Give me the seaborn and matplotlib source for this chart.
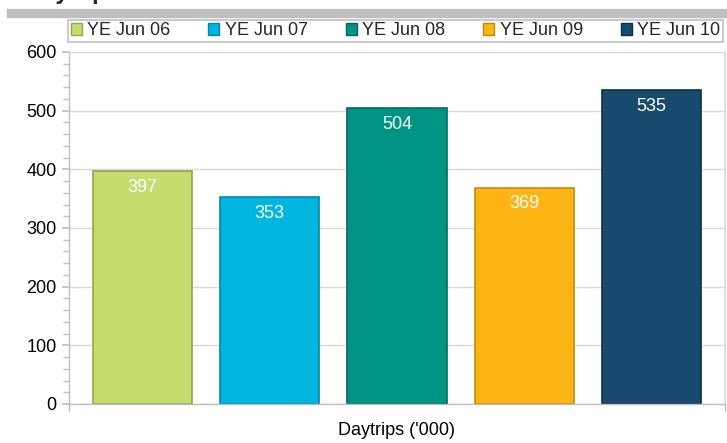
import matplotlib
matplotlib.use("Agg")
import matplotlib.pyplot as plt
import seaborn as sns
import pandas as pd
from matplotlib.ticker import MultipleLocator, FixedLocator

# data
category = "Daytrips ('000)"
series = ["YE Jun 06", "YE Jun 07", "YE Jun 08", "YE Jun 09", "YE Jun 10"]
values = [397, 353, 504, 369, 535]
colors = ["#C5DC6E", "#00B5E0", "#009485", "#FDB515", "#184A6E"]
edges = ["#8FA84A", "#0088AA", "#006A60", "#C68A0A", "#0E2F47"]

sns.set_theme(style="white")
plt.rcParams["font.family"] = ["Liberation Sans", "DejaVu Sans"]

df = pd.DataFrame({"cat": [category] * len(series), "series": series, "value": values})

fig = plt.figure(figsize=(7.27, 4.43), dpi=100)
ax = fig.add_axes([69 / 727, 1 - 404 / 443, 656 / 727, (404 - 52) / 443])

sns.barplot(data=df, x="cat", y="value", hue="series", palette=colors,
            width=0.97, gap=0.22, ax=ax, legend=False, saturation=1)

for patch, ec in zip(ax.patches, edges):
    patch.set_edgecolor(ec)
    patch.set_linewidth(1.2)
    h = patch.get_height()
    ax.text(patch.get_x() + patch.get_width() / 2, h - 13, f"{int(round(h))}",
            ha="center", va="top", color="white", fontsize=13)

ax.set_xlim(-0.5, 0.5)
ax.set_ylim(0, 600)
ax.yaxis.set_major_locator(MultipleLocator(100))
ax.yaxis.set_minor_locator(MultipleLocator(20))
ax.grid(axis="y", which="major", color="#D9D9D9", linewidth=1)
ax.set_axisbelow(True)
ax.tick_params(axis="y", which="both", direction="out", length=5, color="#BFBFBF",
               left=True, labelsize=13, labelcolor="#000000", pad=4)
ax.tick_params(axis="y", which="minor", length=4)
ax.xaxis.set_minor_locator(FixedLocator([-0.5, 0.5]))
ax.tick_params(axis="x", which="major", length=0, labelsize=13, pad=13,
               labelcolor="#000000")
ax.tick_params(axis="x", which="minor", direction="out", length=5, color="#BFBFBF", bottom=True)
ax.set_xlabel("")
ax.set_ylabel("")
for side in ["left", "bottom"]:
    ax.spines[side].set_color("#BFBFBF")
    ax.spines[side].set_linewidth(1)
ax.spines["right"].set_color("#D9D9D9")
ax.spines["top"].set_visible(False)

# legend across the top
handles = [plt.Rectangle((0, 0), 1, 1, facecolor=c, edgecolor=e, linewidth=1)
           for c, e in zip(colors, edges)]
leg = fig.legend(handles, series, ncol=5, loc="lower left",
                 bbox_to_anchor=(68 / 727, 1 - 42 / 443, 655 / 727, 25 / 443),
                 mode="expand", frameon=True, fancybox=False, fontsize=13,
                 handlelength=0.6, handleheight=0.6, handletextpad=0.3,
                 borderpad=0.15, borderaxespad=0, columnspacing=0.8)
leg.get_frame().set_edgecolor("#BFBFBF")
leg.get_frame().set_linewidth(1.5)

# grey band and cropped title at the very top
fig.patches.append(plt.Rectangle((7 / 727, 1 - 17 / 443), 1, 8 / 443,
                                 transform=fig.transFigure, color="#BFBFBF", zorder=0))
fig.text(25 / 727, 1 + 1 / 443, "Daytrips", fontsize=17, fontweight="bold", va="baseline")

fig.savefig("out.png", dpi=100)
